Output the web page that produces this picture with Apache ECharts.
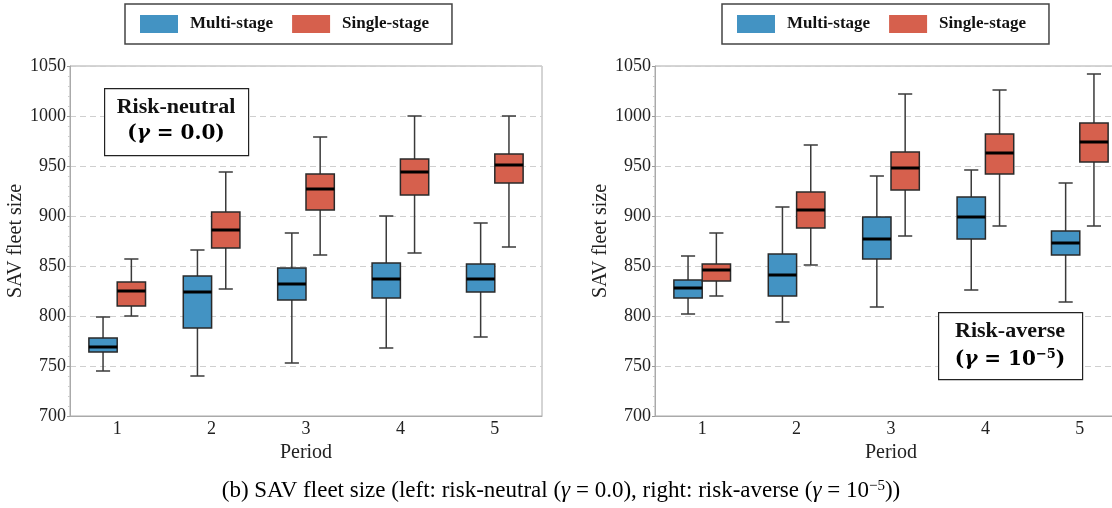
<!DOCTYPE html>
<html>
<head>
<meta charset="utf-8">
<script src="https://cdn.jsdelivr.net/npm/echarts@6/dist/echarts.min.js"></script>
<style>
  html, body { margin: 0; padding: 0; background: #fff; overflow: hidden; }
  /* the right panel runs past the page edge, so the canvas is a little wider than the window */
  #chart { width: 1130px; height: 508px; }
</style>
</head>
<body>
<div id="chart"></div>
<script>
// Periods on the x axis
const periods = ['1', '2', '3', '4', '5'];
const yTicks = { min: 700, max: 1050, step: 50 };

// Box statistics per period: [lower whisker, Q1, median, Q3, upper whisker]
const neutralMulti = [
  [745, 764, 769, 778, 799],
  [740, 788, 824, 840, 866],
  [753, 816, 832, 848, 883],
  [768, 818, 837, 853, 900],
  [779, 824, 837, 852, 893]
];
const neutralSingle = [
  [800, 810, 825, 834, 857],
  [827, 868, 886, 904, 944],
  [861, 906, 927, 942, 979],
  [863, 921, 944, 957, 1000],
  [869, 933, 951, 962, 1000]
];
const averseMulti = [
  [802, 818, 828, 836, 860],
  [794, 820, 841, 862, 909],
  [809, 857, 877, 899, 940],
  [826, 877, 899, 919, 946],
  [814, 861, 873, 885, 933]
];
const averseSingle = [
  [820, 835, 846, 852, 883],
  [851, 888, 906, 924, 971],
  [880, 926, 948, 964, 1022],
  [890, 942, 963, 982, 1026],
  [890, 954, 974, 993, 1042]
];

const seriesNames = ['Multi-stage', 'Single-stage'];
const BLUE = '#4393c3';
const RED = '#d6604d';
const SERIF = '"Liberation Serif", "Times New Roman", serif';
const MATH = '"DejaVu Serif", serif';

// One box per period; offset is a fraction of the category band
function boxRenderer(offset, fill) {
  return function (params, api) {
    const cat = api.value(0);
    const band = api.size([1, 0])[0];
    const cx = api.coord([cat, 0])[0] + offset * band;
    const y = i => api.coord([cat, api.value(i)])[1];
    const yMin = y(1), yQ1 = y(2), yMed = y(3), yQ3 = y(4), yMax = y(5);
    const half = band * 0.15;
    const cap = band * 0.075;
    const line = (x1, y1, x2, y2, w, c) => ({
      type: 'line',
      shape: { x1, y1, x2, y2 },
      style: { stroke: c, lineWidth: w }
    });
    return {
      type: 'group',
      children: [
        line(cx, yMax, cx, yQ3, 1.5, '#3a3a3a'),
        line(cx, yQ1, cx, yMin, 1.5, '#3a3a3a'),
        line(cx - cap, yMax, cx + cap, yMax, 1.5, '#3a3a3a'),
        line(cx - cap, yMin, cx + cap, yMin, 1.5, '#3a3a3a'),
        {
          type: 'rect',
          shape: { x: cx - half, y: yQ3, width: 2 * half, height: yQ1 - yQ3 },
          style: { fill: fill, stroke: '#2a2a2a', lineWidth: 1.5 }
        },
        line(cx - half, yMed, cx + half, yMed, 3, '#000')
      ]
    };
  };
}

function toRows(stats) {
  return stats.map((s, i) => [i].concat(s));
}

function boxSeries(name, stats, gridIdx, offset, color) {
  return {
    type: 'custom',
    name: name,
    xAxisIndex: gridIdx,
    yAxisIndex: gridIdx,
    itemStyle: { color: color },
    renderItem: boxRenderer(offset, color),
    encode: { x: 0, y: [1, 2, 3, 4, 5] },
    data: toRows(stats)
  };
}

function xAxisCfg(gridIdx) {
  return {
    type: 'category',
    gridIndex: gridIdx,
    data: periods,
    boundaryGap: true,
    name: 'Period',
    nameLocation: 'middle',
    nameGap: 22,
    nameTextStyle: { fontFamily: SERIF, fontSize: 20, color: '#222' },
    axisLine: { show: true, lineStyle: { color: '#aaa', width: 1 } },
    axisTick: { show: false },
    axisLabel: { fontFamily: SERIF, fontSize: 18, color: '#222', margin: 4 },
    splitLine: { show: false }
  };
}

function yAxisCfg(gridIdx) {
  return {
    type: 'value',
    gridIndex: gridIdx,
    min: yTicks.min,
    max: yTicks.max,
    interval: yTicks.step,
    name: 'SAV fleet size',
    nameLocation: 'middle',
    nameGap: 37,
    nameRotate: 90,
    nameTextStyle: { fontFamily: SERIF, fontSize: 20, color: '#222' },
    axisLine: { show: true, lineStyle: { color: '#aaa', width: 1 } },
    axisTick: { show: true, inside: false, length: 3, lineStyle: { color: '#999' } },
    minorTick: { show: true, splitNumber: 5, length: 2, lineStyle: { color: '#ccc' } },
    axisLabel: {
      fontFamily: SERIF, fontSize: 18, color: '#222', margin: 4,
      formatter: v => String(v)
    },
    splitLine: { show: true, lineStyle: { color: '#cfcfcf', type: [6, 4], width: 1 } }
  };
}

function legendCfg(left) {
  return {
    left: left,
    top: 4,
    orient: 'horizontal',
    data: seriesNames.map(n => ({ name: n, icon: 'rect' })),
    itemWidth: 38,
    itemHeight: 18,
    itemGap: 19,
    padding: [11, 23, 11, 15],
    backgroundColor: '#fff',
    borderColor: '#444',
    borderWidth: 1.5,
    borderRadius: 0,
    selectedMode: false,
    itemStyle: { borderWidth: 0 },
    textStyle: {
      fontFamily: SERIF, fontSize: 17, fontWeight: 'bold', color: '#111',
      padding: [0, 0, 0, 7]
    }
  };
}

const chart = echarts.init(document.getElementById('chart'), null, { renderer: 'canvas' });

const mathRich = {
  p: { fontFamily: MATH, fontSize: 20, fontWeight: 'bold', color: '#111' },
  g: { fontFamily: MATH, fontSize: 20, fontWeight: 'bold', fontStyle: 'italic', color: '#111' },
  s: { fontFamily: MATH, fontSize: 13, fontWeight: 'bold', color: '#111', verticalAlign: 'top', padding: [0, 0, 10, 0] }
};

chart.setOption({
  animation: false,
  backgroundColor: '#fff',
  grid: [
    { left: 70, top: 66, width: 472, height: 350, show: true, borderColor: '#aaa', borderWidth: 1, containLabel: false },
    { left: 655, top: 66, width: 472, height: 350, show: true, borderColor: '#aaa', borderWidth: 1, containLabel: false }
  ],
  xAxis: [xAxisCfg(0), xAxisCfg(1)],
  yAxis: [yAxisCfg(0), yAxisCfg(1)],
  legend: [legendCfg(125), legendCfg(722)],
  series: [
    boxSeries(seriesNames[0], neutralMulti, 0, -0.15, BLUE),
    boxSeries(seriesNames[1], neutralSingle, 0, 0.15, RED),
    boxSeries(seriesNames[0], averseMulti, 1, -0.15, BLUE),
    boxSeries(seriesNames[1], averseSingle, 1, 0.15, RED)
  ],
  graphic: [
    // Risk-neutral panel label
    {
      type: 'rect', left: 104, top: 88,
      shape: { width: 144, height: 67 },
      style: { fill: '#fff', stroke: '#222', lineWidth: 1.2 }, z: 10
    },
    {
      type: 'text', x: 176, y: 107, z: 11,
      style: {
        text: 'Risk-neutral', fontFamily: SERIF, fontSize: 22, fontWeight: 'bold',
        fill: '#111', align: 'center', verticalAlign: 'middle'
      }
    },
    {
      type: 'text', x: 176, y: 134, z: 11,
      style: {
        text: '{p|(}{g|γ}{p| = 0.0)}', rich: mathRich,
        align: 'center', verticalAlign: 'middle'
      }
    },
    // Risk-averse panel label
    {
      type: 'rect', left: 938, top: 312,
      shape: { width: 144, height: 67 },
      style: { fill: '#fff', stroke: '#222', lineWidth: 1.2 }, z: 10
    },
    {
      type: 'text', x: 1010, y: 331, z: 11,
      style: {
        text: 'Risk-averse', fontFamily: SERIF, fontSize: 22, fontWeight: 'bold',
        fill: '#111', align: 'center', verticalAlign: 'middle'
      }
    },
    {
      type: 'text', x: 1010, y: 360, z: 11,
      style: {
        text: '{p|(}{g|γ}{p| = 10}{s|−5}{p|)}', rich: mathRich,
        align: 'center', verticalAlign: 'middle'
      }
    },
    // Caption
    {
      type: 'text', x: 561, y: 491, z: 11,
      style: {
        text: '{t|(b) SAV fleet size (left: risk-neutral (}{i|γ}{t| = 0.0), right: risk-averse (}{i|γ}{t| = 10}{s|−5}{t|))}',
        rich: {
          t: { fontFamily: SERIF, fontSize: 23, color: '#111' },
          i: { fontFamily: SERIF, fontSize: 23, fontStyle: 'italic', color: '#111' },
          s: { fontFamily: SERIF, fontSize: 15, color: '#111', verticalAlign: 'top', padding: [0, 0, 10, 0] }
        },
        align: 'center', verticalAlign: 'middle'
      }
    }
  ]
});
</script>
</body>
</html>
